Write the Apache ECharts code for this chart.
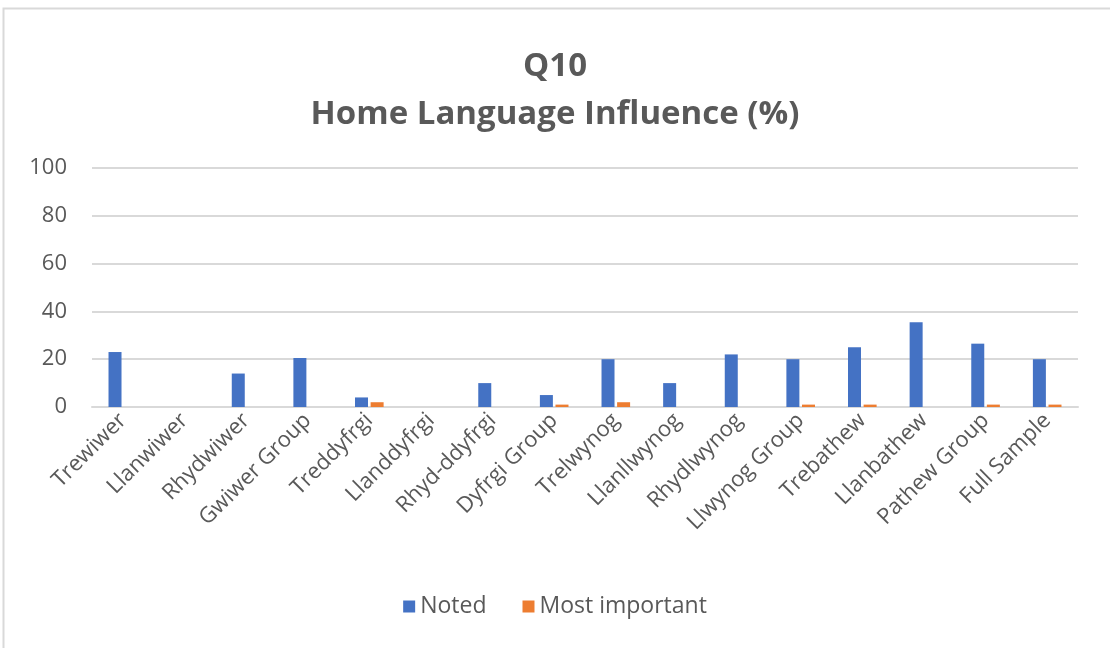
<!DOCTYPE html>
<html><head><meta charset="utf-8">
<script src="https://cdn.jsdelivr.net/npm/echarts@6/dist/echarts.min.js"></script>
<style>html,body{margin:0;padding:0;background:#fff}#c{width:1110px;height:648px}</style>
</head><body><div id="c"></div>
<script>
const categories = ["Trewiwer","Llanwiwer","Rhydwiwer","Gwiwer Group","Treddyfrgi","Llanddyfrgi","Rhyd-ddyfrgi","Dyfrgi Group","Trelwynog","Llanllwynog","Rhydlwynog","Llwynog Group","Trebathew","Llanbathew","Pathew Group","Full Sample"];
const noted = [23,0,14,20.5,4,0,10,5,20,10,22,20,25,35.5,26.5,20];
const mostImportant = [0,0,0,0,2,0,0,1,2,0,0,1,1,0,1,1];
const yTicks = [0,20,40,60,80,100];

const chart = echarts.init(document.getElementById('c'));
const font = '"Open Sans", "Liberation Sans", sans-serif';
chart.setOption({
  animation:false,
  graphic:[{type:'rect',shape:{x:3.5,y:8.5,width:1120,height:660},style:{fill:'none',stroke:'#d9d9d9',lineWidth:2},z:-1}],
  title:{text:'Q10\nHome Language Influence (%)',left:'center',top:38,
    textStyle:{fontFamily:font,fontSize:33,fontWeight:'bold',color:'#595959',lineHeight:48}},
  legend:{bottom:25,left:'center',itemWidth:12,itemHeight:12,itemGap:36,icon:'rect',
    textStyle:{fontFamily:font,fontSize:23,color:'#595959'},data:['Noted','Most important']},
  grid:{left:92,right:32,top:168,bottom:241,containLabel:false},
  xAxis:{type:'category',data:categories,
    axisLine:{lineStyle:{color:'#d9d9d9',width:2}},axisTick:{show:false},
    axisLabel:{rotate:45,interval:0,fontFamily:font,fontSize:22,color:'#595959',margin:10}},
  yAxis:{type:'value',min:0,max:100,interval:20,
    axisLine:{show:false},axisTick:{show:false},
    splitLine:{lineStyle:{color:'#d9d9d9',width:2}},
    axisLabel:{fontFamily:font,fontSize:22,color:'#595959',margin:25,
      formatter:v=>yTicks.includes(v)?String(v):''}},
  series:[
    {name:'Noted',type:'bar',data:noted,barWidth:13,barGap:'20%',itemStyle:{color:'#4472c4'}},
    {name:'Most important',type:'bar',data:mostImportant,barWidth:13,itemStyle:{color:'#ed7d31'}}
  ]
});
</script></body></html>
